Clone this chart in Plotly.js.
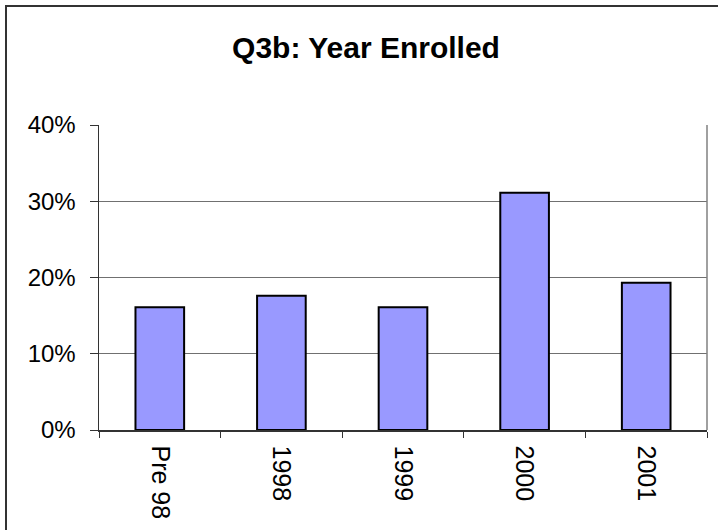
<!DOCTYPE html>
<html>
<head>
<meta charset="utf-8">
<script src="https://cdn.plot.ly/plotly-3.0.1.min.js"></script>
<style>
html,body{margin:0;padding:0;background:#fff;overflow:hidden;}
#wrap{position:relative;width:718px;height:530px;}
#chart{position:absolute;left:0;top:0;width:718px;height:530px;}
#frame{position:absolute;left:5px;top:5px;width:730px;height:560px;border:2px solid #333;box-sizing:border-box;pointer-events:none;}
</style>
</head>
<body>
<div id="wrap"><div id="chart"></div><div id="frame"></div></div>
<script>
const categories = ["Pre 98", "1998", "1999", "2000", "2001"];
const shares = [0.161, 0.176, 0.161, 0.311, 0.193];
const titleText = "<b>Q3b: Year Enrolled</b>";

const trace = {
  type: "bar",
  x: categories,
  y: shares,
  marker: {color: "#9999FF", line: {color: "#000000", width: 2}},
  hoverinfo: "x+y"
};

const layout = {
  width: 718, height: 530,
  margin: {l: 99, r: 11, t: 125, b: 100, pad: 0},
  paper_bgcolor: "#ffffff",
  plot_bgcolor: "#ffffff",
  bargap: 0.6,
  showlegend: false,
  font: {family: "Liberation Sans, Arial, sans-serif", color: "#000"},
  title: {
    text: titleText,
    font: {size: 30, family: "Liberation Sans, Arial, sans-serif", color: "#000"},
    x: 366/718, xref: "container", xanchor: "center",
    y: 1 - 47/530, yref: "container", yanchor: "middle"
  },
  xaxis: {
    type: "category",
    tickangle: 90,
    ticks: "outside",
    tickson: "boundaries",
    ticklen: 6,
    tickcolor: "#333",
    tickwidth: 1,
    showline: true,
    linecolor: "#333",
    linewidth: 1.5,
    showgrid: false,
    tickfont: {size: 25, color: "#000"},
    ticklabelstandoff: 9,
    fixedrange: true
  },
  yaxis: {
    range: [0, 0.4],
    dtick: 0.1,
    tickformat: ".0%",
    ticks: "outside",
    ticklen: 8,
    tickcolor: "#333",
    tickwidth: 1,
    showline: true,
    linecolor: "#333",
    linewidth: 1.5,
    showgrid: true,
    gridcolor: "#707070",
    gridwidth: 1,
    zeroline: false,
    tickfont: {size: 24, color: "#000"},
    ticklabelstandoff: 9,
    fixedrange: true
  },
  shapes: [{
    type: "line", xref: "paper", yref: "paper",
    x0: 1, x1: 1, y0: 0, y1: 1,
    line: {color: "#808080", width: 1.5}
  }]
};

Plotly.newPlot("chart", [trace], layout, {displayModeBar: false, staticPlot: true});
</script>
</body>
</html>
